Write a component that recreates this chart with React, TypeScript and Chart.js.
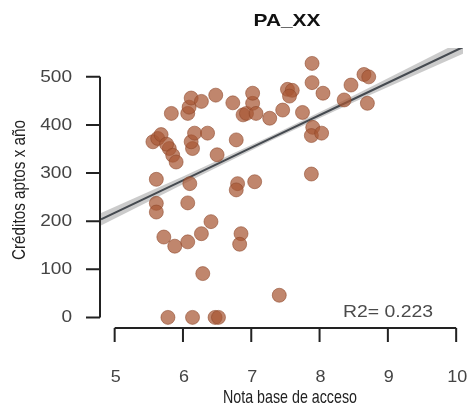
import React, { useEffect, useRef } from "react";
import { Chart, registerables } from "chart.js";

Chart.register(...registerables);

// Nota base de acceso vs. créditos aptos por año
const notaBase = [
  5.78, 6.14, 6.47, 6.52, 6.29, 7.41, 5.72, 5.88, 6.07, 6.27, 6.41, 6.85, 6.83,
  5.61, 5.61, 6.07, 5.61, 6.10, 6.80, 6.78, 7.05, 7.88, 6.50, 6.14, 6.12, 6.17,
  6.36, 6.78, 5.56, 5.63, 5.68, 5.80, 5.76, 5.85, 5.90, 5.83, 6.07, 6.09, 6.12,
  6.27, 6.48, 6.73, 6.88, 6.93, 7.02, 7.02, 7.07, 7.27, 7.46, 7.53, 7.60, 7.56,
  7.75, 7.89, 7.89, 8.05, 7.90, 7.88, 8.03, 8.36, 8.46, 8.65, 8.72, 8.70,
];
const creditos = [
  0, 0, 0, 0, 91, 46, 167, 148, 157, 174, 199, 174, 152,
  237, 219, 238, 287, 278, 278, 265, 282, 298, 338, 351, 365, 383,
  383, 369, 365, 372, 380, 351, 360, 337, 323, 424, 424, 437, 456,
  449, 462, 446, 421, 424, 445, 466, 424, 414, 431, 474, 472, 460,
  426, 528, 488, 466, 395, 378, 383, 452, 483, 505, 500, 445,
];

// Recta de regresión y su banda de confianza
const fitX = [4.8, 6.0, 7.3, 8.5, 10.1];
const fitMid = [204, 285, 373, 454, 562];
const fitLow = [191, 277, 368, 447, 548];
const fitHigh = [217, 293, 378, 461, 576];

const xTicks = [5, 6, 7, 8, 9, 10];
const yTicks = [0, 100, 200, 300, 400, 500];

const title = "PA_XX";
const xTitle = "Nota base de acceso";
const yTitle = "Créditos aptos x año";
const r2Label = "R2= 0.223";

const SANS = '"Liberation Sans", Arial, sans-serif';

function drawText(
  ctx: CanvasRenderingContext2D,
  text: string,
  x: number,
  y: number,
  font: string,
  color: string,
  align: "left" | "center" | "right",
  width?: number,
  rotate?: boolean
) {
  ctx.save();
  ctx.font = font;
  ctx.fillStyle = color;
  ctx.textBaseline = "middle";
  ctx.textAlign = align;
  ctx.translate(x, y);
  if (rotate) ctx.rotate(-Math.PI / 2);
  if (width) {
    const w = ctx.measureText(text).width;
    ctx.scale(width / w, 1);
  }
  ctx.fillText(text, 0, 0);
  ctx.restore();
}

const baseAxes = {
  id: "baseAxes",
  afterDraw(chart: any) {
    const ctx: CanvasRenderingContext2D = chart.ctx;
    const xs = chart.scales.x;
    const ys = chart.scales.y;
    ctx.save();
    ctx.strokeStyle = "#222";
    ctx.lineWidth = 2;

    // y axis
    const yAxisX = 100;
    const y0 = ys.getPixelForValue(yTicks[0]);
    const y1 = ys.getPixelForValue(yTicks[yTicks.length - 1]);
    ctx.beginPath();
    ctx.moveTo(yAxisX, y0);
    ctx.lineTo(yAxisX, y1);
    for (const t of yTicks) {
      const py = ys.getPixelForValue(t);
      ctx.moveTo(yAxisX, py);
      ctx.lineTo(yAxisX - 14, py);
    }
    ctx.stroke();
    for (const t of yTicks) {
      const py = ys.getPixelForValue(t);
      drawText(ctx, String(t), 72, py, `17px ${SANS}`, "#444", "right", String(t).length * 10.6);
    }

    // x axis
    const xAxisY = 328;
    const x0 = xs.getPixelForValue(xTicks[0]);
    const x1 = xs.getPixelForValue(xTicks[xTicks.length - 1]);
    ctx.beginPath();
    ctx.moveTo(x0, xAxisY);
    ctx.lineTo(x1, xAxisY);
    for (const t of xTicks) {
      const px = xs.getPixelForValue(t);
      ctx.moveTo(px, xAxisY);
      ctx.lineTo(px, xAxisY + 14);
    }
    ctx.stroke();
    for (const t of xTicks) {
      const px = xs.getPixelForValue(t);
      drawText(ctx, String(t), px + 1, 377, `17px ${SANS}`, "#444", "center", String(t).length * 10);
    }
    ctx.restore();

    // titles and annotation
    drawText(ctx, title, 287, 21, `bold 17px ${SANS}`, "#111", "center", 67);
    drawText(ctx, xTitle, 290, 398, `19px ${SANS}`, "#222", "center", 134);
    drawText(ctx, yTitle, 20, 190, `19px ${SANS}`, "#222", "center", 140, true);
    drawText(ctx, r2Label, 388, 313, `16px ${SANS}`, "#4a4a4a", "center", 90);
  },
};

export default function App() {
  const ref = useRef<HTMLCanvasElement | null>(null);

  useEffect(() => {
    if (!ref.current) return;
    const chart = new Chart(ref.current, {
      type: "scatter",
      data: {
        datasets: [
          {
            type: "line",
            data: fitX.map((x, i) => ({ x, y: fitHigh[i] })),
            borderWidth: 0,
            pointRadius: 0,
            backgroundColor: "rgba(140,140,140,0.45)",
            fill: "+1",
            order: 3,
          },
          {
            type: "line",
            data: fitX.map((x, i) => ({ x, y: fitLow[i] })),
            borderWidth: 0,
            pointRadius: 0,
            fill: false,
            order: 3,
          },
          {
            type: "line",
            data: fitX.map((x, i) => ({ x, y: fitMid[i] })),
            borderColor: "#454a50",
            borderWidth: 2,
            pointRadius: 0,
            fill: false,
            order: 2,
          },
          {
            type: "scatter",
            data: notaBase.map((x, i) => ({ x, y: creditos[i] })),
            pointRadius: 7,
            pointBackgroundColor: "rgba(168,88,52,0.72)",
            pointBorderColor: "rgba(140,70,40,0.55)",
            pointBorderWidth: 1,
            order: 1,
          },
        ],
      },
      options: {
        animation: false,
        responsive: false,
        devicePixelRatio: 1,
        layout: { padding: { left: 101, right: 7, top: 48, bottom: 87 } },
        plugins: {
          legend: { display: false },
          tooltip: { enabled: false },
          title: { display: false },
        },
        scales: {
          x: { type: "linear", min: 4.8, max: 10.1, display: false },
          y: { type: "linear", min: -20, max: 560, display: false },
        },
      },
      plugins: [baseAxes],
    });
    return () => chart.destroy();
  }, []);

  return (
    <div style={{ position: "absolute", left: 0, top: 0, width: 471, height: 414, background: "#fff" }}>
      <canvas ref={ref} width={471} height={414} />
    </div>
  );
}
